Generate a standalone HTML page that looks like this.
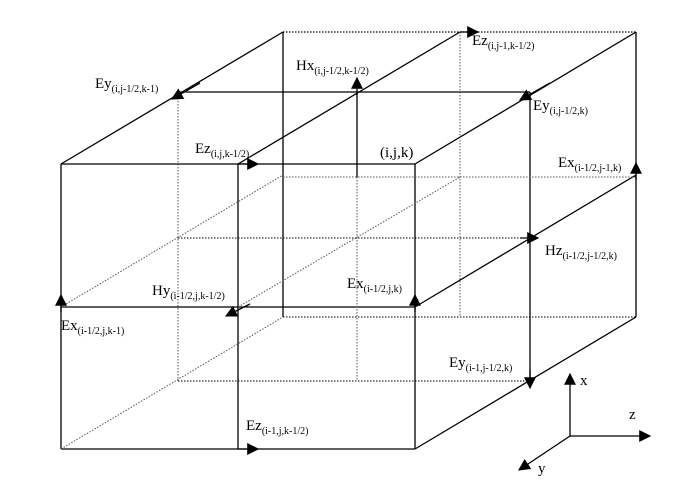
<!DOCTYPE html>
<html><head><meta charset="utf-8"><style>
html,body{margin:0;padding:0;background:#fff;}
svg{display:block;}
text{font-family:"Liberation Serif",serif;font-size:15px;fill:#000;}
.s{font-size:10px;}
</style></head><body>
<svg width="697" height="497" viewBox="0 0 697 497">
<defs>
<marker id="ah" viewBox="0 0 10 10" refX="9" refY="5" markerWidth="12" markerHeight="12" markerUnits="userSpaceOnUse" orient="auto"><path d="M0,0 L10,5 L0,10 z" fill="#000"/></marker>
</defs>
<g stroke="#000" stroke-width="1.3" fill="none">
<line x1="61" y1="164" x2="415" y2="164"/>
<line x1="61" y1="164" x2="61" y2="449"/>
<line x1="61" y1="449" x2="415" y2="449"/>
<line x1="415" y1="164" x2="415" y2="449"/>
<line x1="238" y1="164" x2="238" y2="449"/>
<line x1="61" y1="307" x2="415" y2="307"/>
<line x1="61" y1="164" x2="283" y2="32"/>
<line x1="238" y1="164" x2="460" y2="32"/>
<line x1="415" y1="164" x2="636" y2="32"/>
<line x1="415" y1="307" x2="636" y2="175"/>
<line x1="415" y1="449" x2="636" y2="317"/>
<line x1="283" y1="32" x2="283" y2="317"/>
<line x1="636" y1="32" x2="636" y2="317"/>
<line x1="178" y1="92" x2="530" y2="92"/>
<line x1="530" y1="92" x2="530" y2="381"/>
<line x1="357" y1="92" x2="357" y2="177"/>
</g>
<g stroke="#555" stroke-width="1" stroke-dasharray="1.5,1.5" fill="none">
<line x1="283" y1="32" x2="636" y2="32" stroke="#000" stroke-width="1.3"/>
<line x1="178" y1="92" x2="178" y2="381"/>
<line x1="178" y1="381" x2="530" y2="381" stroke="#000"/>
<line x1="283" y1="317" x2="636" y2="317" stroke="#000"/>
<line x1="283" y1="177" x2="636" y2="177"/>
<line x1="178" y1="238" x2="530" y2="238" stroke="#000"/>
<line x1="460" y1="32" x2="460" y2="317"/>
<line x1="357" y1="177" x2="357" y2="381"/>
<line x1="61" y1="449" x2="283" y2="317"/>
<line x1="61" y1="307" x2="283" y2="175"/>
<line x1="238" y1="307" x2="460" y2="177"/>
</g>
<g stroke="#000" stroke-width="1.3" fill="none">
<line x1="200" y1="83" x2="172" y2="99" marker-end="url(#ah)"/>
<line x1="550" y1="83" x2="520" y2="100" marker-end="url(#ah)"/>
<line x1="238" y1="164" x2="258" y2="164" marker-end="url(#ah)"/>
<line x1="460" y1="32" x2="478" y2="32" marker-end="url(#ah)"/>
<line x1="357" y1="95" x2="357" y2="78" marker-end="url(#ah)"/>
<line x1="61" y1="312" x2="61" y2="295" marker-end="url(#ah)"/>
<line x1="415" y1="312" x2="415" y2="295" marker-end="url(#ah)"/>
<line x1="636" y1="180" x2="636" y2="163" marker-end="url(#ah)"/>
<line x1="520" y1="238" x2="538" y2="238" marker-end="url(#ah)"/>
<line x1="250" y1="304" x2="226" y2="316" marker-end="url(#ah)"/>
<line x1="238" y1="449" x2="258" y2="449" marker-end="url(#ah)"/>
<line x1="530" y1="370" x2="530" y2="388" marker-end="url(#ah)"/>
</g>
<g stroke="#000" stroke-width="1.3" fill="none">
<line x1="570" y1="436" x2="570" y2="374" marker-end="url(#ah)"/>
<line x1="570" y1="436" x2="650" y2="436" marker-end="url(#ah)"/>
<line x1="570" y1="436" x2="519" y2="470" marker-end="url(#ah)"/>
</g>
<text x="95" y="88">Ey<tspan class="s" dy="4">(i,j-1/2,k-1)</tspan></text>
<text x="296" y="70">Hx<tspan class="s" dy="4">(i,j-1/2,k-1/2)</tspan></text>
<text x="472" y="45">Ez<tspan class="s" dy="4">(i,j-1,k-1/2)</tspan></text>
<text x="533" y="110">Ey<tspan class="s" dy="4">(i,j-1/2,k)</tspan></text>
<text x="195" y="153">Ez<tspan class="s" dy="4">(i,j,k-1/2)</tspan></text>
<text x="380" y="157">(i,j,k)</text>
<text x="558" y="167">Ex<tspan class="s" dy="4">(i-1/2,j-1,k)</tspan></text>
<text x="545" y="255">Hz<tspan class="s" dy="4">(i-1/2,j-1/2,k)</tspan></text>
<text x="347" y="288">Ex<tspan class="s" dy="4">(i-1/2,j,k)</tspan></text>
<text x="152" y="295">Hy<tspan class="s" dy="4">(i-1/2,j,k-1/2)</tspan></text>
<text x="61" y="330">Ex<tspan class="s" dy="4">(i-1/2,j,k-1)</tspan></text>
<text x="449" y="367">Ey<tspan class="s" dy="4">(i-1,j-1/2,k)</tspan></text>
<text x="246" y="430">Ez<tspan class="s" dy="4">(i-1,j,k-1/2)</tspan></text>
<text x="580" y="385">x</text>
<text x="629" y="419">z</text>
<text x="538" y="473">y</text>
</svg>
</body></html>
